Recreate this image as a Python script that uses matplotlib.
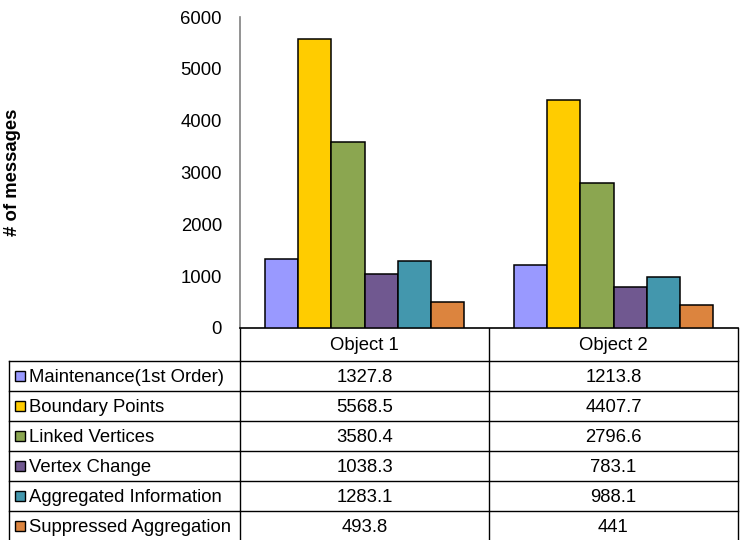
import matplotlib.pyplot as plt
import numpy as np

plt.rcParams['font.family'] = ['Liberation Sans', 'DejaVu Sans']

objects = ['Object 1', 'Object 2']
series = ['Maintenance(1st Order)', 'Boundary Points', 'Linked Vertices',
          'Vertex Change', 'Aggregated Information', 'Suppressed Aggregation']
values = [
    [1327.8, 1213.8],
    [5568.5, 4407.7],
    [3580.4, 2796.6],
    [1038.3, 783.1],
    [1283.1, 988.1],
    [493.8, 441],
]
value_text = [
    ['1327.8', '1213.8'],
    ['5568.5', '4407.7'],
    ['3580.4', '2796.6'],
    ['1038.3', '783.1'],
    ['1283.1', '988.1'],
    ['493.8', '441'],
]
colors = ['#9999FF', '#FFCC00', '#8BA650', '#705890', '#4397AD', '#DC843E']
yticks = [0, 1000, 2000, 3000, 4000, 5000, 6000]

FS = 13.3
W, H = 742, 540


def box(left, top, right, bottom):
    return [left / W, 1 - bottom / H, (right - left) / W, (bottom - top) / H]


fig = plt.figure(figsize=(W / 100, H / 100), dpi=100)
ax = fig.add_axes(box(240, 17, 738, 328))

x = np.arange(len(objects))
n = len(series)
width = 0.8 / n
for i, (name, vals) in enumerate(zip(series, values)):
    ax.bar(x - 0.4 + width * (i + 0.5), vals, width, color=colors[i],
           edgecolor='black', linewidth=1.1, zorder=3)

ax.set_xlim(-0.5, len(objects) - 0.5)
ax.set_ylim(0, 6000)
ax.set_yticks(yticks)
ax.set_yticklabels([str(t) for t in yticks], fontsize=FS)
ax.tick_params(axis='y', length=0, pad=13)
ax.set_xticks([])
for s in ['top', 'right']:
    ax.spines[s].set_visible(False)
ax.spines['left'].set_color('#808080')
ax.spines['left'].set_linewidth(1.2)
ax.spines['bottom'].set_color('black')
ax.spines['bottom'].set_linewidth(1.2)

fig.text(13 / W, 1 - 172 / H, '# of messages', rotation=90, fontsize=FS,
         fontweight='bold', ha='center', va='center')

# data table under the plot, drawn in pixel units
tab = fig.add_axes([0, 0, 1, 1], zorder=-1)
tab.set_xlim(0, W)
tab.set_ylim(H, 0)
tab.axis('off')

col_edges = [9, 240, 489, 738]
header_top, first_row, row_h = 328, 361, 30
row_edges = [first_row + row_h * k for k in range(n + 1)]
lc = 'black'
lw = 1.0

tab.plot([240, 240], [header_top, row_edges[-1]], color=lc, lw=lw)
tab.plot([738, 738], [header_top, row_edges[-1]], color=lc, lw=lw)
tab.plot([489, 489], [header_top, row_edges[-1]], color=lc, lw=lw)
tab.plot([9, 9], [first_row, row_edges[-1]], color=lc, lw=lw)
for y in row_edges:
    tab.plot([9, 738], [y, y], color=lc, lw=lw)

for j, obj in enumerate(objects):
    cx = (col_edges[j + 1] + col_edges[j + 2]) / 2
    tab.text(cx, (header_top + first_row) / 2 + 1, obj, fontsize=FS,
             ha='center', va='center')

for i, name in enumerate(series):
    cy = row_edges[i] + row_h / 2
    tab.add_patch(plt.Rectangle((15, cy - 5), 10, 10, facecolor=colors[i],
                                edgecolor='black', lw=1.0))
    tab.text(29, cy + 1, name, fontsize=FS, ha='left', va='center')
    for j in range(len(objects)):
        cx = (col_edges[j + 1] + col_edges[j + 2]) / 2
        tab.text(cx, cy + 1, value_text[i][j], fontsize=FS,
                 ha='center', va='center')

fig.savefig('out.png', dpi=100)
